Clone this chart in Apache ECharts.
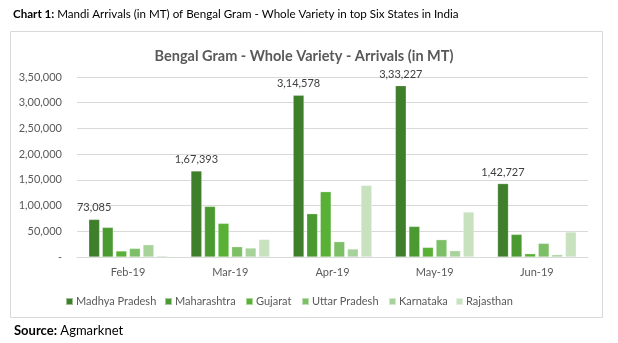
<!DOCTYPE html>
<html>
<head>
<meta charset="utf-8">
<script src="https://cdn.jsdelivr.net/npm/echarts@6/dist/echarts.min.js"></script>
<style>
  html, body { margin: 0; padding: 0; background: #fff; }
  #chart { width: 618px; height: 343px; }
</style>
</head>
<body>
<div id="chart"></div>
<script>
// Months on the category axis
const months = ['Feb-19', 'Mar-19', 'Apr-19', 'May-19', 'Jun-19'];

// Arrivals (MT) per state, one array per series
const madhyaPradesh = [73085, 167393, 314578, 333227, 142727];
const maharashtra   = [57600, 98400, 84200, 59500, 44000];
const gujarat       = [11700, 65400, 127000, 18700, 6400];
const uttarPradesh  = [16700, 20000, 29800, 33700, 26500];
const karnataka     = [23900, 17500, 15600, 12300, 4500];
const rajasthan     = [2500, 34200, 139300, 87500, 48600];

const stateNames = ['Madhya Pradesh', 'Maharashtra', 'Gujarat', 'Uttar Pradesh', 'Karnataka', 'Rajasthan'];
const stateValues = [madhyaPradesh, maharashtra, gujarat, uttarPradesh, karnataka, rajasthan];
const stateColors = ['#3f7e2b', '#4b9a31', '#58b034', '#7dbf66', '#a7d39b', '#c8e2c0'];

// Indian digit grouping: 3,50,000 ; zero shown as a dash
function indianFormat(v) {
  if (v === 0) return '-';
  const s = String(Math.round(v));
  let last3 = s.slice(-3);
  let rest = s.slice(0, -3);
  if (rest) last3 = ',' + last3;
  rest = rest.replace(/\B(?=(\d{2})+(?!\d))/g, ',');
  return rest + last3;
}

const font = 'Lato, "Open Sans", sans-serif';

const series = stateNames.map((name, i) => ({
  name: name,
  type: 'bar',
  data: stateValues[i],
  barGap: '25%',
  barCategoryGap: '23%',
  itemStyle: { color: stateColors[i], borderColor: 'rgba(255,255,255,0.5)', borderWidth: 0.5 },
  label: i === 0 ? {
    show: true,
    position: 'top',
    distance: 6,
    color: '#404040',
    fontFamily: font,
    fontSize: 11,
    formatter: p => indianFormat(p.value)
  } : { show: false }
}));

// one legend entry per state, laid out in a single row
const legendX = [65, 164, 245, 301, 388, 455];
const legends = stateNames.map((name, i) => ({
  data: [name],
  left: legendX[i], top: 296,
  padding: 0,
  itemWidth: 7, itemHeight: 7,
  icon: 'rect',
  textStyle: { fontFamily: font, fontSize: 11, color: '#595959', padding: [0, 0, 0, -2] }
}));

const chart = echarts.init(document.getElementById('chart'));
chart.setOption({
  animation: false,
  backgroundColor: '#ffffff',
  title: [
    {
      text: '{b|Chart 1:} Mandi Arrivals (in MT) of Bengal Gram - Whole Variety in top Six States in India',
      left: 8, top: 3,
      textStyle: {
        fontFamily: font, fontSize: 11.6, fontWeight: 'normal', color: '#000',
        rich: { b: { fontFamily: font, fontSize: 11.6, fontWeight: 'bold', color: '#000' } }
      }
    },
    {
      text: 'Bengal Gram - Whole Variety - Arrivals (in MT)',
      left: 299, top: 44, textAlign: 'center',
      textStyle: { fontFamily: font, fontSize: 14.5, fontWeight: 'bold', color: '#595959' }
    },
    {
      text: '{b|Source:} Agmarknet',
      left: 9, top: 319,
      textStyle: {
        fontFamily: font, fontSize: 13, fontWeight: 'normal', color: '#000',
        rich: { b: { fontFamily: font, fontSize: 13, fontWeight: 'bold', color: '#000' } }
      }
    }
  ],
  graphic: [{
    type: 'rect',
    silent: true,
    z: -1,
    shape: { x: 10.5, y: 31.5, width: 592, height: 286 },
    style: { fill: '#fff', stroke: '#d9d9d9', lineWidth: 1 }
  }],
  legend: legends,
  grid: { left: 77, right: 30, top: 77, bottom: 86 },
  xAxis: {
    type: 'category',
    data: months,
    axisLine: { show: true, lineStyle: { color: '#d9d9d9' } },
    axisTick: { show: false },
    axisLabel: { fontFamily: font, fontSize: 11, color: '#595959', margin: 10 }
  },
  yAxis: {
    type: 'value',
    min: 0, max: 350000, interval: 50000,
    axisLine: { show: false },
    axisTick: { show: false },
    splitLine: { lineStyle: { color: '#d9d9d9' } },
    axisLabel: { fontFamily: font, fontSize: 11, color: '#595959', margin: 15, formatter: indianFormat }
  },
  series: series
});
</script>
</body>
</html>
